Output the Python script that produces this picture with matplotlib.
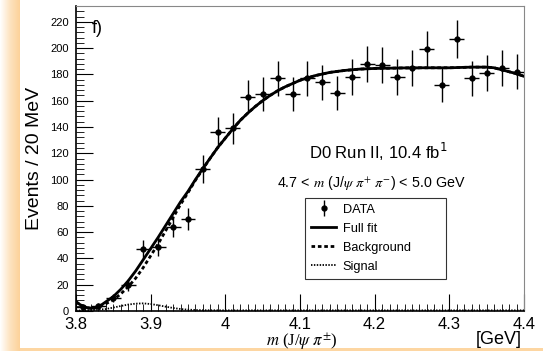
import numpy as np
import matplotlib
matplotlib.use('Agg')
import matplotlib.pyplot as plt
import matplotlib.transforms as mtrans
from matplotlib.patches import Rectangle
from matplotlib.ticker import MultipleLocator
from matplotlib.lines import Line2D
from matplotlib.colors import LinearSegmentedColormap

plt.rcParams['font.family'] = ['Liberation Sans', 'DejaVu Sans']

# data points (20 MeV bins)
mass = [3.81, 3.83, 3.85, 3.87, 3.89, 3.91, 3.93, 3.95, 3.97, 3.99,
        4.01, 4.03, 4.05, 4.07, 4.09, 4.11, 4.13, 4.15, 4.17, 4.19,
        4.21, 4.23, 4.25, 4.27, 4.29, 4.31, 4.33, 4.35, 4.37, 4.39]
events = [3, 4, 10, 20, 47, 49, 64, 70, 108, 136,
          139, 163, 165, 177, 165, 177, 174, 166, 178, 188,
          187, 178, 185, 199, 172, 207, 177, 181, 185, 182]

# fit curves
fit_m = [3.800, 3.805, 3.810, 3.815, 3.820, 3.825, 3.830, 3.835, 3.840, 3.850,
         3.860, 3.870, 3.880, 3.890, 3.900, 3.910, 3.920, 3.930, 3.940, 3.950,
         3.960, 3.970, 3.980, 3.990, 4.000, 4.010, 4.020, 4.030, 4.040, 4.050,
         4.060, 4.070, 4.080, 4.090, 4.100, 4.120, 4.140, 4.160, 4.180, 4.200,
         4.250, 4.300, 4.330, 4.350, 4.360, 4.370, 4.380, 4.390, 4.400]
full_fit = [7, 5, 3.5, 2.5, 2, 2.3, 3.5, 5, 7, 11,
            16.5, 23, 30.5, 39, 47.5, 56, 65, 74, 83, 91,
            100, 108.5, 116.5, 124.5, 131.5, 138.5, 145, 150.5, 155.5, 160,
            164, 167.5, 170.5, 173, 175.5, 179, 181.5, 183, 184, 184.5,
            185, 185, 185.5, 185.5, 185, 183.5, 182, 180.5, 178.5]
background = [7, 5, 3.5, 2.5, 2, 2.2, 3, 4, 5.5, 8.5,
              13, 18.5, 25, 33, 42, 51, 61, 71, 81, 90,
              99.5, 108, 116.5, 124.5, 131.5, 138.5, 145, 150.5, 155.5, 160,
              164, 167.5, 170.5, 173, 175.5, 179, 181.5, 183, 184, 184.5,
              185, 185, 185.5, 185.5, 185, 183.5, 182, 180.5, 178.5]

sig_m = [3.80, 3.82, 3.84, 3.85, 3.86, 3.87, 3.88, 3.89, 3.90, 3.91,
         3.92, 3.93, 3.94, 3.95, 3.97, 4.00, 4.10, 4.20, 4.30, 4.40]
signal = [0.3, 0.6, 1.5, 2.6, 3.8, 4.9, 5.6, 5.8, 5.3, 4.4,
          3.3, 2.3, 1.5, 1.0, 0.6, 0.5, 0.5, 0.5, 0.5, 0.5]

fig = plt.figure(figsize=(5.43, 3.51), dpi=100)

# orange frame decoration
strip = fig.add_axes([0, 0, 20 / 543, 1])
grad = np.linspace(0, 1, 50).reshape(1, -1)
cm = LinearSegmentedColormap.from_list('o', ['#ffffff', '#fde3c0', '#fcd29a'])
strip.imshow(grad, aspect='auto', cmap=cm, extent=[0, 1, 0, 1])
strip.axis('off')
fig.add_artist(Rectangle((20 / 543, 0), 1, 3.5 / 351, transform=fig.transFigure,
                         color='#fdd6a2', lw=0))

ax = fig.add_axes([76 / 543, 1 - 311 / 351, 448 / 543, 305 / 351])

bg_ls = (0, (1.3, 1.0))
sig_ls = (0, (0.8, 0.8))

ax.errorbar(mass, events, xerr=0.01, yerr=np.sqrt(events), fmt='o', color='black',
            ms=3.5, elinewidth=1, capsize=0, zorder=3)
ax.plot(fit_m, full_fit, color='black', lw=2, zorder=4)
ax.plot(fit_m, background, color='black', lw=2, ls=bg_ls, zorder=4)
ax.plot(sig_m, signal, color='black', lw=1.3, ls=sig_ls, zorder=4)

ax.set_xlim(3.8, 4.4)
ax.set_ylim(0, 232)
ax.xaxis.set_minor_locator(MultipleLocator(0.01))
ax.yaxis.set_major_locator(MultipleLocator(20))
ax.yaxis.set_minor_locator(MultipleLocator(4))
ax.set_xticks([3.8, 3.9, 4.0, 4.1, 4.2, 4.3, 4.4])
ax.set_xticklabels(['3.8', '3.9', '4', '4.1', '4.2', '4.3', '4.4'])
ax.tick_params(axis='both', which='both', direction='in', top=False, right=False)
ax.tick_params(axis='x', which='major', length=12, labelsize=12, pad=4)
ax.tick_params(axis='x', which='minor', length=5)
ax.tick_params(axis='y', which='major', length=12, labelsize=8, pad=5)
ax.tick_params(axis='y', which='minor', length=6)
for s in ['top', 'right']:
    ax.spines[s].set_color('#888888')
for s in ['left', 'bottom']:
    ax.spines[s].set_linewidth(1.2)

# lift the "0" label a little, as in the original
fig.canvas.draw()
zero = ax.get_yticklabels()[0]
zero.set_transform(zero.get_transform() + mtrans.ScaledTranslation(0, 3 / 100, fig.dpi_scale_trans))

ax.set_ylabel('Events / 20 MeV', fontsize=14, labelpad=5)
fig.text(302 / 543, 1 - 341 / 351, r'$m$ (J/$\psi$ $\pi^{\pm}$)', ha='center', va='center',
         fontsize=12, family='Liberation Serif', math_fontfamily='stix')
fig.text(522 / 543, 1 - 340 / 351, '[GeV]', ha='right', va='center', fontsize=13)

ax.text(0.036, 0.955, 'f)', transform=ax.transAxes, fontsize=13, va='top')
ax.text(4.205, 121, r'D0 Run II, 10.4 fb$^{1}$', ha='center', va='center', fontsize=12)
ax.text(4.195, 97, r'4.7 < $m$ (J/$\psi$ $\pi^{+}$ $\pi^{-}$) < 5.0 GeV', ha='center',
        va='center', fontsize=10.3, math_fontfamily='stix')

data_handle = (Line2D([], [], color='black', marker='o', ms=3.5, ls='none'),
               Line2D([], [], color='black', marker='|', ms=11, mew=1, ls='none'))
handles = [
    data_handle,
    Line2D([], [], color='black', lw=2),
    Line2D([], [], color='black', lw=2, ls=bg_ls),
    Line2D([], [], color='black', lw=1.3, ls=sig_ls),
]
leg = ax.legend(handles, ['DATA', 'Full fit', 'Background', 'Signal'],
                loc='upper left', mode='expand',
                bbox_to_anchor=((305 - 76) / 448, (311 - 201) / 305, 141 / 448, 0.01),
                fontsize=9.2, frameon=True, fancybox=False, edgecolor='black',
                handlelength=2.0, borderpad=0.45, labelspacing=0.55, handletextpad=0.5,
                borderaxespad=0)
leg.get_frame().set_linewidth(0.8)

fig.savefig('out.png', dpi=100)
